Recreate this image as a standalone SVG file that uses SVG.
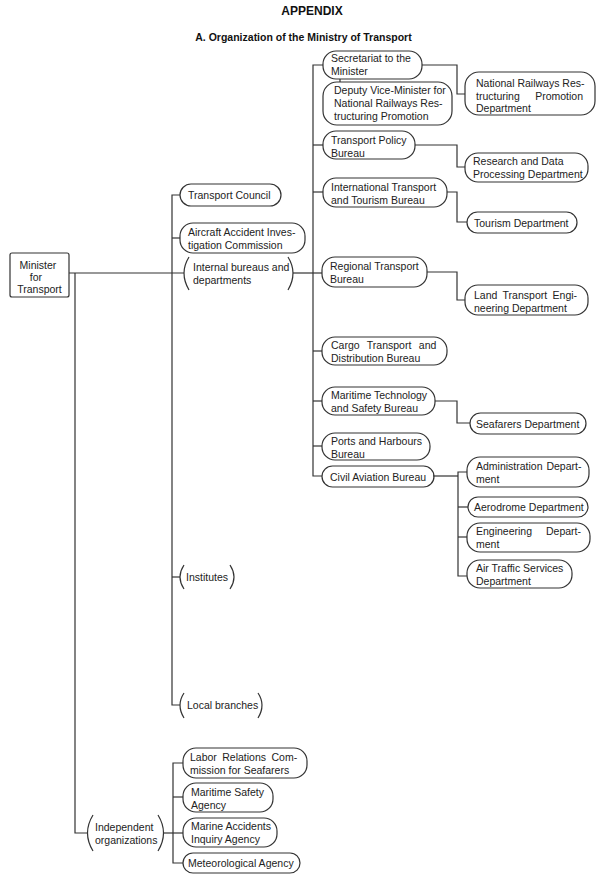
<svg xmlns="http://www.w3.org/2000/svg" width="600" height="880" viewBox="0 0 600 880">
<style>
.box{fill:none;stroke:#333;stroke-width:1.2}
.br{fill:none;stroke:#333;stroke-width:1.2}
.conn{fill:none;stroke:#333;stroke-width:1.2}
.t{font-family:"Liberation Sans",Arial,sans-serif;font-size:10.5px;fill:#222}
.h{font-family:"Liberation Sans",Arial,sans-serif;font-weight:bold;fill:#111;text-anchor:middle}
</style>
<rect x="0" y="0" width="600" height="880" fill="#fff"/>
<g id="title">
<text class="h" x="312" y="15" font-size="12">APPENDIX</text>
<text class="h" x="303.5" y="41" font-size="10.5">A. Organization of the Ministry of Transport</text>
</g>
<g id="connectors">
<path class="conn" d="M69,273 H184"/>
<path class="conn" d="M75,273 V833 H87"/>
<path class="conn" d="M180,195 H172 V705 H180"/>
<path class="conn" d="M172,238 H180"/>
<path class="conn" d="M172,577 H180"/>
<path class="conn" d="M293,273 H322"/>
<path class="conn" d="M323,65 H313 V476 H322"/>
<path class="conn" d="M313,145 H323"/>
<path class="conn" d="M313,192 H323"/>
<path class="conn" d="M313,351 H322"/>
<path class="conn" d="M313,401 H322"/>
<path class="conn" d="M313,446 H322"/>
<path class="conn" d="M340,79 V82"/>
<path class="conn" d="M422,65 H457 V94 H465"/>
<path class="conn" d="M415,145 H457 V167 H465"/>
<path class="conn" d="M447,192 H457 V222 H467"/>
<path class="conn" d="M427,272 H457 V300 H465"/>
<path class="conn" d="M435,401 H457 V423 H470"/>
<path class="conn" d="M433,476 H458"/>
<path class="conn" d="M467,472 H458 V576 H467"/>
<path class="conn" d="M458,507 H468"/>
<path class="conn" d="M458,537 H467"/>
<path class="conn" d="M164,833 H183"/>
<path class="conn" d="M183,763 H173 V863 H183"/>
<path class="conn" d="M173,797 H183"/>
</g>
<g id="minister">
<rect class="box" x="10" y="253" width="59" height="44" rx="2"/>
<text class="t" x="38" y="269" text-anchor="middle">Minister</text>
<text class="t" x="36" y="281" text-anchor="middle">for</text>
<text class="t" x="39.5" y="293" text-anchor="middle">Transport</text>
</g>
<g id="transport-council">
<rect class="box" x="180" y="184" width="101" height="22" rx="11"/>
<text class="t" x="188" y="199">Transport Council</text>
</g>
<g id="aircraft-accident">
<rect class="box" x="180" y="223" width="125" height="30" rx="13"/>
<text class="t" x="188" y="236">Aircraft Accident Inves-</text>
<text class="t" x="188" y="249">tigation Commission</text>
</g>
<g id="internal-bureaus">
<path class="br" d="M189,257 Q179,273 189,290"/>
<path class="br" d="M288,257 Q298,273 288,290"/>
<text class="t" x="193" y="271">Internal bureaus and</text>
<text class="t" x="193" y="284">departments</text>
</g>
<g id="institutes">
<path class="br" d="M184,565 Q176,577 184,589"/>
<path class="br" d="M230,565 Q238,577 230,589"/>
<text class="t" x="186" y="581">Institutes</text>
</g>
<g id="local-branches">
<path class="br" d="M184,693 Q176,705 184,718"/>
<path class="br" d="M258,693 Q266,705 258,718"/>
<text class="t" x="187" y="709">Local branches</text>
</g>
<g id="independent">
<path class="br" d="M93,815 Q82,833 93,851"/>
<path class="br" d="M158,815 Q169,833 158,851"/>
<text class="t" x="95" y="831">Independent</text>
<text class="t" x="95" y="844">organizations</text>
</g>
<g id="labor-relations">
<rect class="box" x="183" y="748" width="124" height="30" rx="13"/>
<text class="t" x="190" y="761" style="word-spacing:2.5px">Labor Relations Com-</text>
<text class="t" x="190" y="774">mission for Seafarers</text>
</g>
<g id="maritime-safety">
<rect class="box" x="183" y="783" width="90" height="29" rx="13"/>
<text class="t" x="191" y="796">Maritime Safety</text>
<text class="t" x="191" y="809">Agency</text>
</g>
<g id="marine-accidents">
<rect class="box" x="183" y="818" width="94" height="29" rx="13"/>
<text class="t" x="191" y="830">Marine Accidents</text>
<text class="t" x="191" y="843">Inquiry Agency</text>
</g>
<g id="meteorological">
<rect class="box" x="183" y="853" width="117" height="20" rx="10"/>
<text class="t" x="188" y="867">Meteorological Agency</text>
</g>
<g id="secretariat">
<rect class="box" x="323" y="51" width="99" height="28" rx="13"/>
<text class="t" x="331" y="62">Secretariat to the</text>
<text class="t" x="331" y="75">Minister</text>
</g>
<g id="deputy-vice-minister">
<rect class="box" x="323" y="82" width="129" height="43" rx="14"/>
<text class="t" x="334" y="94">Deputy Vice-Minister for</text>
<text class="t" x="334" y="107">National Railways Res-</text>
<text class="t" x="334" y="120">tructuring Promotion</text>
</g>
<g id="national-railways-dept">
<rect class="box" x="465" y="72" width="130" height="43" rx="14"/>
<text class="t" x="476" y="87">National Railways Res-</text>
<text class="t" x="476" y="100" style="word-spacing:12.5px">tructuring Promotion</text>
<text class="t" x="476" y="112">Department</text>
</g>
<g id="transport-policy">
<rect class="box" x="323" y="131" width="92" height="28" rx="13"/>
<text class="t" x="331" y="144">Transport Policy</text>
<text class="t" x="331" y="157">Bureau</text>
</g>
<g id="research-data">
<rect class="box" x="465" y="153" width="123" height="29" rx="13"/>
<text class="t" x="473" y="165">Research and Data</text>
<text class="t" x="473" y="178">Processing Department</text>
</g>
<g id="international-tourism">
<rect class="box" x="323" y="178" width="124" height="29" rx="13"/>
<text class="t" x="331" y="191">International Transport</text>
<text class="t" x="331" y="204">and Tourism Bureau</text>
</g>
<g id="tourism-dept">
<rect class="box" x="467" y="212" width="110" height="21" rx="10.5"/>
<text class="t" x="474" y="227">Tourism Department</text>
</g>
<g id="regional-transport">
<rect class="box" x="322" y="257" width="105" height="30" rx="13"/>
<text class="t" x="330" y="270">Regional Transport</text>
<text class="t" x="330" y="283">Bureau</text>
</g>
<g id="land-transport">
<rect class="box" x="465" y="285" width="123" height="30" rx="13"/>
<text class="t" x="474" y="299" style="word-spacing:2.5px">Land Transport Engi-</text>
<text class="t" x="474" y="312">neering Department</text>
</g>
<g id="cargo-transport">
<rect class="box" x="322" y="337" width="125" height="28" rx="13"/>
<text class="t" x="331" y="349" style="word-spacing:4.5px">Cargo Transport and</text>
<text class="t" x="331" y="362">Distribution Bureau</text>
</g>
<g id="maritime-technology">
<rect class="box" x="322" y="387" width="113" height="28" rx="13"/>
<text class="t" x="331" y="399">Maritime Technology</text>
<text class="t" x="331" y="412">and Safety Bureau</text>
</g>
<g id="seafarers-dept">
<rect class="box" x="470" y="413" width="116" height="21" rx="10.5"/>
<text class="t" x="476" y="428">Seafarers Department</text>
</g>
<g id="ports-harbours">
<rect class="box" x="322" y="433" width="108" height="27" rx="13"/>
<text class="t" x="331" y="445">Ports and Harbours</text>
<text class="t" x="331" y="458">Bureau</text>
</g>
<g id="civil-aviation">
<rect class="box" x="322" y="466" width="112" height="21" rx="10.5"/>
<text class="t" x="330" y="481">Civil Aviation Bureau</text>
</g>
<g id="administration-dept">
<rect class="box" x="467" y="457" width="122" height="30" rx="13"/>
<text class="t" x="476" y="470" style="word-spacing:1px">Administration Depart-</text>
<text class="t" x="476" y="483">ment</text>
</g>
<g id="aerodrome-dept">
<rect class="box" x="468" y="497" width="120" height="20" rx="10"/>
<text class="t" x="474" y="511">Aerodrome Department</text>
</g>
<g id="engineering-dept">
<rect class="box" x="467" y="523" width="123" height="29" rx="13"/>
<text class="t" x="476" y="535" style="word-spacing:11px">Engineering Depart-</text>
<text class="t" x="476" y="548">ment</text>
</g>
<g id="air-traffic-dept">
<rect class="box" x="467" y="560" width="105" height="28" rx="13"/>
<text class="t" x="476" y="572">Air Traffic Services</text>
<text class="t" x="476" y="585">Department</text>
</g>
</svg>
